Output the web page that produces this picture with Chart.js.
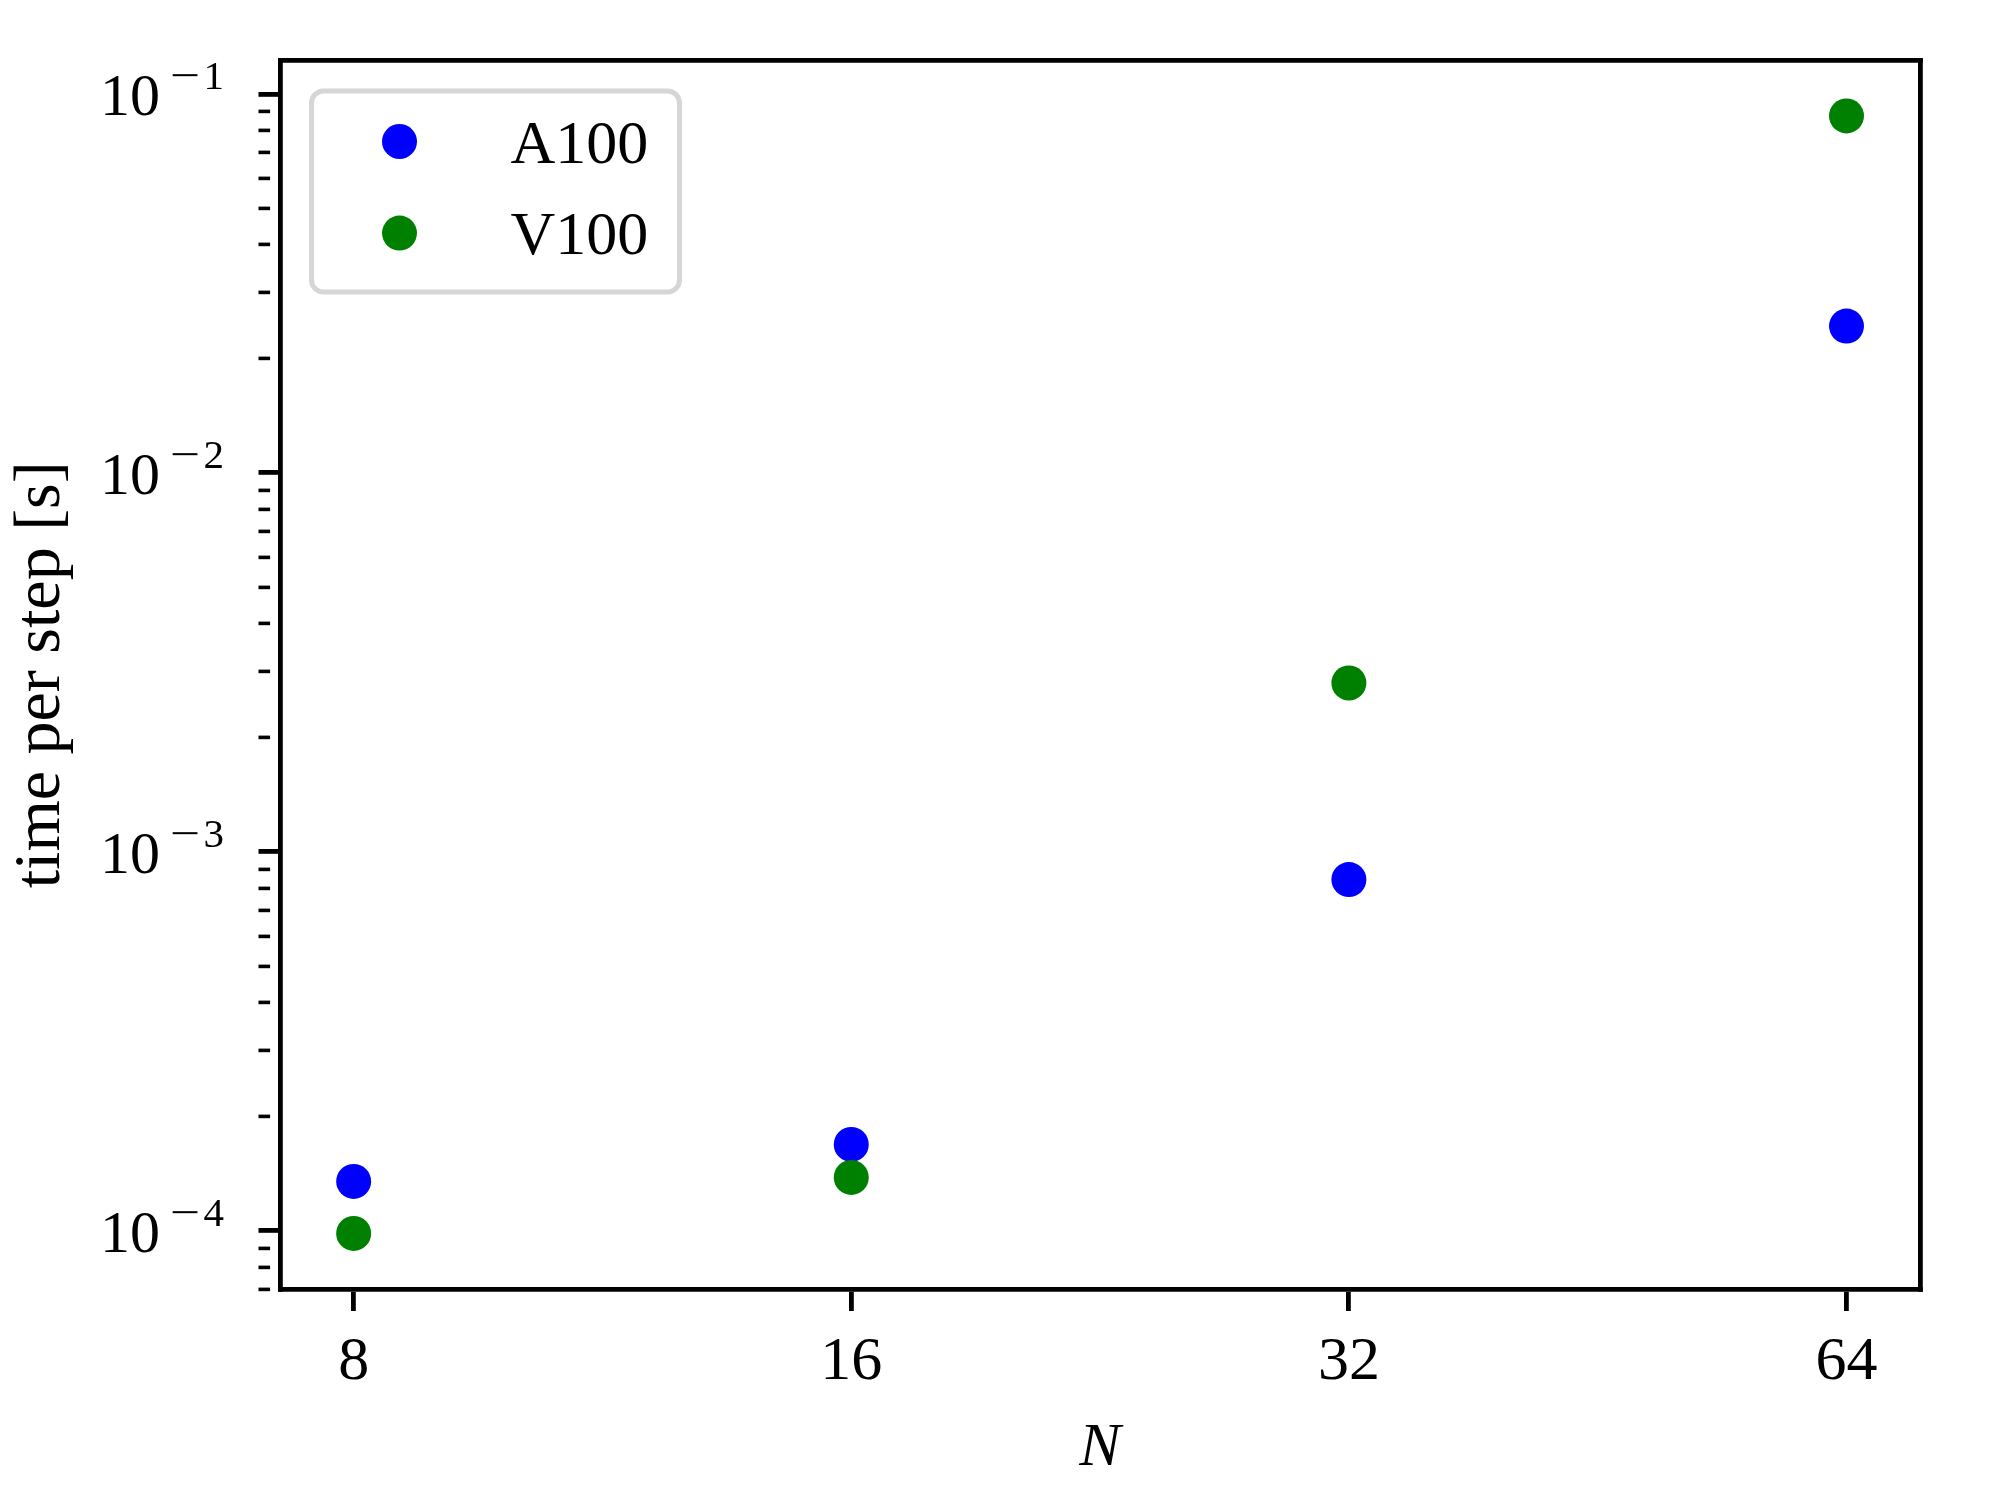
<!DOCTYPE html>
<html>
<head>
<meta charset="utf-8">
<script src="https://cdn.jsdelivr.net/npm/chart.js@4.4.0/dist/chart.umd.min.js"></script>
<style>
  html, body { margin: 0; padding: 0; background: #fff; }
  canvas { display: block; }
</style>
</head>
<body>
<canvas id="chart" width="2000" height="1500"></canvas>
<script>
// grid size N
const nValues = [8, 16, 32, 64];
// time per step [s]
const a100Times = [1.35e-4, 1.69e-4, 8.45e-4, 2.44e-2];
const v100Times = [9.84e-5, 1.383e-4, 2.79e-3, 8.75e-2];
const seriesLabels = ['A100', 'V100'];
const seriesColors = ['#0000ff', '#008000'];

// ticks
const xTicks = [8, 16, 32, 64];
const yDecades = [-4, -3, -2, -1];
const yMinorSteps = [2, 3, 4, 5, 6, 7, 8, 9];

// axis limits (matplotlib-like 5% margins in log space)
const xMin = 7.22, xMax = 70.9;
const yMin = 7.0e-5, yMax = 0.1229;

const FONT = "'Liberation Serif', 'DejaVu Serif', serif";
const SPINE = 4.8;

function toPoints(xs, ys) {
    return xs.map((x, i) => ({ x: x, y: ys[i] }));
}

function yTickList() {
    var list = [];
    for (var e = yDecades[0] - 1; e <= yDecades[yDecades.length - 1]; e++) {
        if (yDecades.indexOf(e) >= 0) list.push({ value: Math.pow(10, e), major: true });
        yMinorSteps.forEach(m => {
            var v = m * Math.pow(10, e);
            if (v >= yMin && v <= yMax) list.push({ value: v, major: false });
        });
    }
    return list.sort((a, b) => a.value - b.value);
}

// 10^n labels with a raised exponent
const yLabelsPlugin = {
    id: 'yLabels',
    afterDraw(chart) {
        const ctx = chart.ctx;
        const scale = chart.scales.y;
        ctx.save();
        ctx.fillStyle = '#000';
        ctx.textBaseline = 'alphabetic';
        ctx.textAlign = 'right';
        yDecades.forEach(e => {
            const py = scale.getPixelForValue(Math.pow(10, e));
            ctx.font = '41px ' + FONT;
            ctx.fillText(String(Math.abs(e)), 224, py - 5);
            // wide math minus
            ctx.save();
            ctx.translate(200, py - 5);
            ctx.scale(1.3, 1);
            ctx.fillText('\u2212', 0, 0);
            ctx.restore();
            ctx.font = '60px ' + FONT;
            ctx.fillText('10', 160, py + 21);
        });
        ctx.restore();
    }
};

// legend box in the upper left of the axes
const legendPlugin = {
    id: 'boxLegend',
    afterDraw(chart) {
        const ctx = chart.ctx;
        const area = chart.chartArea;
        const x0 = area.left + 31.5, y0 = area.top + 31;
        const w = 368, h = 201, r = 12;
        ctx.save();
        ctx.beginPath();
        ctx.roundRect(x0, y0, w, h, r);
        ctx.fillStyle = 'rgba(255,255,255,0.8)';
        ctx.fill();
        ctx.lineWidth = 5;
        ctx.strokeStyle = '#d6d6d6';
        ctx.stroke();
        chart.data.datasets.forEach((ds, i) => {
            const cy = y0 + 50.5 + i * 91.6;
            ctx.beginPath();
            ctx.arc(x0 + 88, cy, 17.5, 0, Math.PI * 2);
            ctx.fillStyle = ds.backgroundColor;
            ctx.fill();
            ctx.fillStyle = '#000';
            ctx.font = '62px ' + FONT;
            ctx.textAlign = 'left';
            ctx.textBaseline = 'alphabetic';
            ctx.fillText(ds.label, x0 + 199, cy + 21);
        });
        ctx.restore();
    }
};

const ctx = document.getElementById('chart').getContext('2d');
new Chart(ctx, {
    type: 'scatter',
    data: {
        datasets: [
            {
                label: seriesLabels[0],
                data: toPoints(nValues, a100Times),
                backgroundColor: seriesColors[0],
                order: 1
            },
            {
                label: seriesLabels[1],
                data: toPoints(nValues, v100Times),
                backgroundColor: seriesColors[1],
                order: 0
            }
        ]
    },
    options: {
        responsive: false,
        animation: false,
        devicePixelRatio: 1,
        layout: { padding: { left: 0, right: 80, top: 60, bottom: 0 } },
        elements: {
            point: { radius: 17.5, hoverRadius: 17.5, borderWidth: 0 }
        },
        plugins: {
            legend: { display: false },
            tooltip: { enabled: false }
        },
        scales: {
            x: {
                type: 'logarithmic',
                position: 'bottom',
                min: xMin,
                max: xMax,
                afterBuildTicks: s => { s.ticks = xTicks.map(v => ({ value: v, major: true })); },
                afterFit: s => { s.height = 210.5; },
                ticks: {
                    autoSkip: false,
                    maxRotation: 0,
                    padding: 15,
                    color: '#000',
                    font: { family: FONT, size: 62 },
                    callback: v => String(v)
                },
                grid: { drawOnChartArea: false, lineWidth: SPINE, tickLength: 21.5, tickWidth: SPINE, tickColor: '#000' },
                border: { display: true, color: '#000', width: SPINE },
                title: {
                    display: true,
                    text: 'N',
                    color: '#000',
                    font: { family: FONT, size: 62, style: 'italic' },
                    padding: { top: 0, bottom: 14 }
                }
            },
            y: {
                type: 'logarithmic',
                position: 'left',
                min: yMin,
                max: yMax,
                afterBuildTicks: s => { s.ticks = yTickList(); },
                afterFit: s => { s.width = 280; },
                ticks: { display: false },
                grid: {
                    drawOnChartArea: false,
                    lineWidth: SPINE,
                    tickLength: 21.5,
                    tickColor: '#000',
                    tickWidth: c => (c.tick && c.tick.major) ? SPINE : 3.6,
                    tickBorderDash: c => (c.tick && c.tick.major) ? [] : [11.6, 40]
                },
                border: { display: true, color: '#000', width: SPINE },
                title: {
                    display: true,
                    text: 'time per step [s]',
                    color: '#000',
                    font: { family: FONT, size: 66 },
                    padding: { top: 2, bottom: 0 }
                }
            },
            x2: {
                type: 'linear',
                position: 'top',
                min: 0,
                max: 1,
                afterFit: s => { s.height = 0; },
                ticks: { display: false },
                grid: { display: false, drawTicks: false, lineWidth: SPINE },
                border: { display: true, color: '#000', width: SPINE }
            },
            y2: {
                type: 'linear',
                position: 'right',
                min: 0,
                max: 1,
                afterFit: s => { s.width = 0; },
                ticks: { display: false },
                grid: { display: false, drawTicks: false, lineWidth: SPINE },
                border: { display: true, color: '#000', width: SPINE }
            }
        }
    },
    plugins: [yLabelsPlugin, legendPlugin]
});
</script>
</body>
</html>
